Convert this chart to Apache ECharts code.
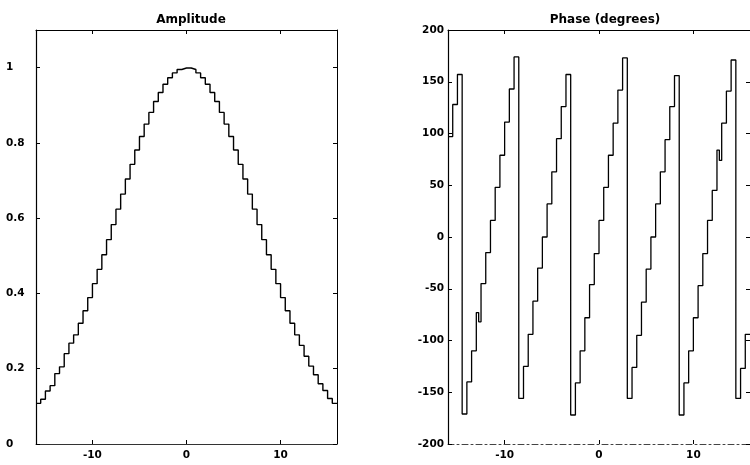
<!DOCTYPE html>
<html>
<head>
<meta charset="utf-8">
<script src="https://cdn.jsdelivr.net/npm/echarts@6/dist/echarts.min.js"></script>
<style>
html,body{margin:0;padding:0;background:#fff;}
#chart{width:750px;height:465px;}
</style>
</head>
<body>
<div id="chart"></div>
<script>
// ---- data ----
const titles = ['Amplitude', 'Phase (degrees)'];
const xTicks = [-10, 0, 10];
const ampTicks = [0, 0.2, 0.4, 0.6, 0.8, 1];
const xEnd = 16;
const xSteps = [-16,-15.5,-15,-14.5,-14,-13.5,-13,-12.5,-12,-11.5,-11,-10.5,-10,-9.5,-9,-8.5,
  -8,-7.5,-7,-6.5,-6,-5.5,-5,-4.5,-4,-3.5,-3,-2.5,-2,-1.5,-1,-0.5,
  0,0.5,1,1.5,2,2.5,3,3.5,4,4.5,5,5.5,6,6.5,7,7.5,
  8,8.5,9,9.5,10,10.5,11,11.5,12,12.5,13,13.5,14,14.5,15,15.5];
const amplitude = [0.108,0.119,0.141,0.155,0.187,0.205,0.240,0.268,0.290,0.321,0.354,0.389,0.426,0.464,0.503,0.543,
  0.583,0.624,0.664,0.704,0.743,0.781,0.817,0.850,0.881,0.910,0.934,0.956,0.973,0.986,0.995,0.999,
  0.999,0.995,0.986,0.973,0.956,0.934,0.910,0.881,0.850,0.817,0.781,0.743,0.704,0.664,0.624,0.583,
  0.543,0.503,0.464,0.426,0.389,0.354,0.321,0.290,0.262,0.233,0.207,0.184,0.160,0.142,0.121,0.108];
const phaseX = [-16,-15.5,-15,-14.5,-14,-13.5,-13,-12.75,-12.5,-12,-11.5,-11,-10.5,-10,-9.5,-9,
  -8.5,-8,-7.5,-7,-6.5,-6,-5.5,-5,-4.5,-4,-3.5,-3,-2.5,-2,-1.5,-1,-0.5,
  0,0.5,1,1.5,2,2.5,3,3.5,4,4.5,5,5.5,6,6.5,7,7.5,8,
  8.5,9,9.5,10,10.5,11,11.5,12,12.5,12.75,13,13.5,14,14.5,15,15.5];
const phaseDeg = [97,128,157,-171,-140,-110,-73,-82,-45,-15,16,48,79,111,143,174,
  -156,-125,-94,-62,-30,0,32,63,95,126,157,-172,-141,-110,-78,-46,-16,
  16,48,79,110,142,173,-156,-126,-95,-63,-31,0,32,63,94,126,156,
  -172,-141,-110,-78,-47,-16,16,45,84,74,110,141,171,-156,-127,-94];

// ---- build ----
const ampData = xSteps.map((x, i) => [x, amplitude[i]]);
ampData.push([xEnd, amplitude[amplitude.length - 1]]);
const phaseData = phaseX.map((x, i) => [x, phaseDeg[i]]);
phaseData.push([xEnd, phaseDeg[phaseDeg.length - 1]]);

const FONT = 'DejaVu Sans, Liberation Sans, sans-serif';
const labelStyle = {color: '#000', fontSize: 10.5, fontFamily: FONT, fontWeight: 'bold'};

function xAxisPair(gi, bottomLine) {
  return [
    {type: 'value', gridIndex: gi, position: 'bottom', min: -16, max: 16,
      axisLine: {show: true, onZero: false, lineStyle: bottomLine},
      axisTick: {show: true, inside: true, length: 4, customValues: xTicks, lineStyle: {color: '#000'}},
      axisLabel: Object.assign({customValues: xTicks, margin: 6}, labelStyle),
      splitLine: {show: false}},
    {type: 'value', gridIndex: gi, position: 'top', min: -16, max: 16,
      axisLine: {show: true, onZero: false, lineStyle: {color: '#000', width: 1}},
      axisTick: {show: true, inside: true, length: 4, customValues: xTicks, lineStyle: {color: '#000'}},
      axisLabel: {show: false}, splitLine: {show: false}}
  ];
}

const chart = echarts.init(document.getElementById('chart'), null, {renderer: 'canvas'});
chart.setOption({
  animation: false,
  backgroundColor: '#fff',
  title: [
    {text: titles[0], left: 186, top: 9, textAlign: 'center',
      textStyle: {fontSize: 12, fontWeight: 'bold', color: '#000', fontFamily: FONT}},
    {text: titles[1], left: 600, top: 9, textAlign: 'center',
      textStyle: {fontSize: 12, fontWeight: 'bold', color: '#000', fontFamily: FONT}}
  ],
  grid: [
    {left: 36, top: 30, width: 301, height: 414},
    {left: 448, top: 30, width: 302, height: 414}
  ],
  xAxis: [].concat(
    xAxisPair(0, {color: '#333', width: 1}),
    xAxisPair(1, {color: '#444', width: 1, type: [6, 3, 2, 3]})
  ),
  yAxis: [
    {type: 'value', gridIndex: 0, position: 'left', min: 0, max: 1.1,
      axisLine: {show: true, onZero: false, lineStyle: {color: '#000', width: 1.2}},
      axisTick: {show: true, inside: true, length: 4, customValues: ampTicks, lineStyle: {color: '#000'}},
      axisLabel: Object.assign({customValues: ampTicks, margin: 30, align: 'left'}, labelStyle),
      splitLine: {show: false}},
    {type: 'value', gridIndex: 0, position: 'right', min: 0, max: 1.1,
      axisLine: {show: true, onZero: false, lineStyle: {color: '#000', width: 1}},
      axisTick: {show: true, inside: true, length: 4, customValues: ampTicks, lineStyle: {color: '#000'}},
      axisLabel: {show: false}, splitLine: {show: false}},
    {type: 'value', gridIndex: 1, position: 'left', min: -200, max: 200, interval: 50,
      axisLine: {show: true, onZero: false, lineStyle: {color: '#000', width: 1.2}},
      axisTick: {show: true, inside: true, length: 4, lineStyle: {color: '#000'}},
      axisLabel: Object.assign({margin: 4}, labelStyle),
      splitLine: {show: false}},
    {type: 'value', gridIndex: 1, position: 'right', min: -200, max: 200, interval: 50,
      axisLine: {show: true, onZero: false, lineStyle: {color: '#000', width: 1}},
      axisTick: {show: true, inside: true, length: 4, lineStyle: {color: '#000'}},
      axisLabel: {show: false}, splitLine: {show: false}}
  ],
  series: [
    {type: 'line', xAxisIndex: 0, yAxisIndex: 0, data: ampData, step: 'end',
      showSymbol: false, symbol: 'none', lineStyle: {color: '#000', width: 1.4}},
    {type: 'line', xAxisIndex: 2, yAxisIndex: 2, data: phaseData, step: 'end',
      showSymbol: false, symbol: 'none', lineStyle: {color: '#000', width: 1.3}}
  ]
});
</script>
</body>
</html>
